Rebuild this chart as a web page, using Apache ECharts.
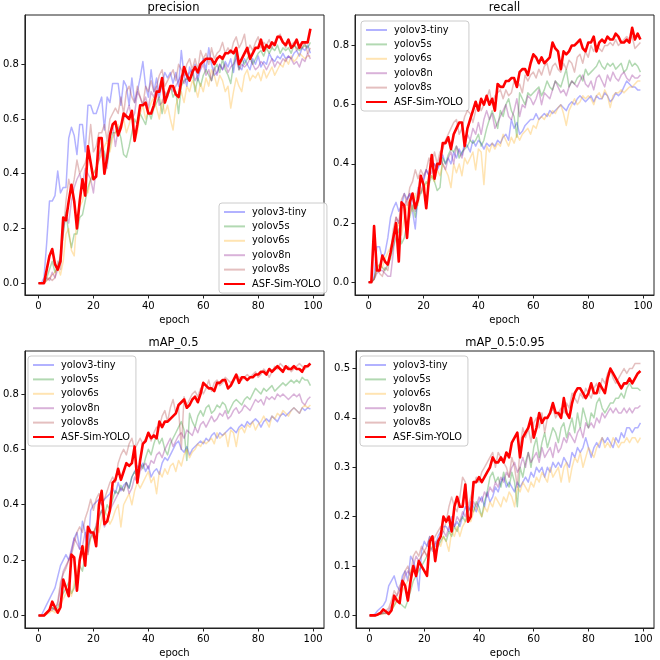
<!DOCTYPE html>
<html><head><meta charset="utf-8">
<script src="https://cdn.jsdelivr.net/npm/echarts@6/dist/echarts.min.js"></script>
<style>html,body{margin:0;padding:0;background:#fff}#c{width:660px;height:660px}</style>
</head><body><div id="c"></div>
<script>
// ---------- data ----------
const panelTitles = ['precision', 'recall', 'mAP_0.5', 'mAP_0.5:0.95'];
const modelNames = ['yolov3-tiny', 'yolov5s', 'yolov6s', 'yolov8n', 'yolov8s', 'ASF-Sim-YOLO'];
const xTicks = [0, 20, 40, 60, 80, 100];
const yTicksA = [0, 0.2, 0.4, 0.6, 0.8];
const yTicksB = [0, 0.1, 0.2, 0.3, 0.4, 0.5];

// precision
const precV3tiny = [0,0,0.02,0.15,0.30,0.30,0.32,0.41,0.33,0.35,
 0.35,0.53,0.57,0.54,0.47,0.58,0.58,0.48,0.65,0.65,
 0.62,0.62,0.65,0.68,0.56,0.68,0.66,0.73,0.73,0.73,
 0.65,0.74,0.72,0.65,0.75,0.66,0.70,0.75,0.81,0.72,
 0.68,0.78,0.70,0.75,0.68,0.73,0.77,0.75,0.77,0.73,
 0.77,0.72,0.85,0.76,0.72,0.79,0.76,0.80,0.74,0.79,
 0.82,0.78,0.86,0.80,0.76,0.77,0.80,0.78,0.81,0.79,
 0.82,0.77,0.84,0.79,0.78,0.82,0.80,0.78,0.82,0.80,
 0.83,0.79,0.81,0.80,0.84,0.82,0.81,0.83,0.82,0.84,
 0.82,0.83,0.82,0.84,0.85,0.83,0.86,0.85,0.87,0.84];
const precV5s = [0,0,0,0.02,0.05,0.08,0.04,0.06,0.10,0.18,
 0.26,0.18,0.13,0.18,0.18,0.24,0.25,0.30,0.35,0.38,
 0.40,0.42,0.47,0.50,0.48,0.44,0.50,0.55,0.55,0.57,
 0.53,0.47,0.46,0.50,0.55,0.60,0.58,0.62,0.60,0.58,
 0.63,0.60,0.64,0.66,0.68,0.62,0.68,0.70,0.72,0.68,
 0.70,0.62,0.72,0.74,0.75,0.74,0.78,0.70,0.75,0.72,
 0.76,0.78,0.76,0.74,0.78,0.80,0.77,0.82,0.78,0.76,
 0.73,0.80,0.85,0.78,0.82,0.80,0.82,0.84,0.80,0.82,
 0.84,0.85,0.83,0.86,0.84,0.86,0.85,0.87,0.84,0.86,
 0.85,0.86,0.84,0.87,0.86,0.85,0.86,0.87,0.86,0.88];
const precV6s = [0,0,0,0.01,0.02,0.03,0.04,0.06,0.03,0.08,
 0.18,0.20,0.12,0.10,0.25,0.28,0.30,0.35,0.33,0.38,
 0.40,0.42,0.45,0.47,0.50,0.52,0.48,0.53,0.55,0.58,
 0.56,0.60,0.55,0.58,0.62,0.52,0.55,0.62,0.65,0.60,
 0.63,0.66,0.68,0.64,0.60,0.67,0.62,0.65,0.60,0.56,
 0.65,0.68,0.70,0.66,0.72,0.70,0.74,0.72,0.68,0.73,
 0.70,0.75,0.72,0.78,0.76,0.72,0.76,0.74,0.70,0.72,
 0.64,0.70,0.75,0.72,0.70,0.76,0.78,0.74,0.76,0.75,
 0.77,0.74,0.78,0.75,0.77,0.79,0.76,0.78,0.80,0.79,
 0.82,0.80,0.83,0.81,0.82,0.84,0.83,0.82,0.83,0.83];
const precV8n = [0,0,0,0.02,0.01,0.04,0.02,0.05,0.10,0.20,
 0.25,0.22,0.30,0.35,0.38,0.40,0.36,0.42,0.40,0.38,
 0.33,0.42,0.45,0.50,0.46,0.42,0.55,0.58,0.50,0.56,
 0.58,0.60,0.62,0.65,0.60,0.62,0.70,0.68,0.65,0.68,
 0.64,0.70,0.68,0.72,0.65,0.66,0.70,0.68,0.72,0.70,
 0.72,0.74,0.76,0.73,0.75,0.77,0.78,0.74,0.76,0.78,
 0.80,0.76,0.78,0.74,0.79,0.76,0.80,0.78,0.80,0.77,
 0.79,0.80,0.82,0.78,0.80,0.79,0.80,0.82,0.80,0.78,
 0.79,0.81,0.80,0.78,0.80,0.82,0.79,0.81,0.80,0.82,
 0.81,0.83,0.82,0.80,0.81,0.79,0.82,0.81,0.84,0.82];
const precV8s = [0,0,0,0.01,0.02,0.01,0.02,0.08,0.05,0.18,
 0.30,0.38,0.33,0.38,0.45,0.40,0.42,0.44,0.48,0.58,
 0.48,0.50,0.55,0.55,0.58,0.52,0.60,0.62,0.64,0.62,
 0.68,0.62,0.70,0.72,0.68,0.66,0.72,0.68,0.65,0.72,
 0.70,0.74,0.70,0.72,0.76,0.78,0.72,0.74,0.76,0.78,
 0.74,0.80,0.78,0.76,0.80,0.82,0.78,0.82,0.78,0.85,
 0.82,0.84,0.80,0.86,0.82,0.84,0.85,0.88,0.84,0.86,
 0.84,0.88,0.90,0.86,0.88,0.91,0.84,0.87,0.85,0.88,
 0.90,0.86,0.88,0.87,0.89,0.86,0.88,0.90,0.91,0.88,
 0.86,0.89,0.87,0.88,0.85,0.87,0.86,0.88,0.84,0.86];
const precASF = [0,0,0,0.05,0.10,0.125,0.07,0.05,0.08,0.24,
 0.23,0.30,0.36,0.30,0.20,0.30,0.38,0.32,0.50,0.44,
 0.38,0.39,0.53,0.53,0.40,0.46,0.54,0.58,0.59,0.54,
 0.57,0.62,0.61,0.60,0.63,0.52,0.58,0.65,0.65,0.66,
 0.62,0.62,0.65,0.70,0.70,0.75,0.66,0.69,0.72,0.72,
 0.69,0.68,0.74,0.79,0.76,0.74,0.77,0.79,0.77,0.80,
 0.81,0.82,0.82,0.82,0.80,0.82,0.83,0.82,0.84,0.84,
 0.85,0.84,0.86,0.80,0.82,0.84,0.86,0.82,0.84,0.86,
 0.86,0.89,0.85,0.87,0.86,0.88,0.87,0.90,0.90,0.88,
 0.87,0.89,0.86,0.87,0.89,0.86,0.88,0.88,0.88,0.93];

// recall
const recV3tiny = [0,0,0.02,0.12,0.12,0.08,0.10,0.15,0.22,0.25,
 0.27,0.24,0.26,0.30,0.28,0.30,0.24,0.18,0.30,0.34,
 0.35,0.38,0.36,0.40,0.40,0.38,0.40,0.43,0.40,0.42,
 0.40,0.44,0.42,0.45,0.43,0.47,0.46,0.44,0.48,0.46,
 0.48,0.47,0.45,0.47,0.46,0.47,0.46,0.48,0.47,0.49,
 0.50,0.48,0.55,0.52,0.54,0.50,0.51,0.53,0.54,0.55,
 0.55,0.57,0.55,0.56,0.57,0.56,0.58,0.57,0.58,0.59,
 0.60,0.59,0.58,0.60,0.61,0.60,0.62,0.63,0.62,0.61,
 0.62,0.63,0.61,0.63,0.62,0.62,0.64,0.63,0.61,0.62,
 0.64,0.63,0.64,0.66,0.68,0.67,0.66,0.66,0.65,0.65];
const recV5s = [0,0,0.01,0.05,0.06,0.05,0.04,0.06,0.08,0.12,
 0.15,0.18,0.13,0.15,0.20,0.22,0.26,0.22,0.28,0.30,
 0.32,0.34,0.33,0.36,0.34,0.31,0.32,0.42,0.40,0.43,
 0.45,0.44,0.46,0.42,0.44,0.45,0.46,0.48,0.47,0.48,
 0.50,0.46,0.48,0.52,0.55,0.58,0.55,0.52,0.58,0.56,
 0.60,0.62,0.58,0.56,0.49,0.64,0.62,0.60,0.64,0.63,
 0.64,0.65,0.66,0.63,0.65,0.68,0.66,0.65,0.68,0.67,
 0.66,0.69,0.72,0.66,0.68,0.67,0.69,0.70,0.68,0.72,
 0.70,0.71,0.72,0.73,0.75,0.73,0.72,0.74,0.73,0.74,
 0.72,0.73,0.74,0.71,0.72,0.75,0.73,0.74,0.73,0.71];
const recV6s = [0,0,0.01,0.04,0.06,0.05,0.08,0.10,0.12,0.15,
 0.18,0.20,0.16,0.22,0.25,0.28,0.24,0.30,0.26,0.32,
 0.30,0.33,0.35,0.36,0.34,0.38,0.36,0.40,0.38,0.36,
 0.32,0.40,0.37,0.40,0.36,0.42,0.40,0.42,0.44,0.38,
 0.45,0.44,0.33,0.46,0.44,0.47,0.45,0.47,0.46,0.50,
 0.48,0.46,0.49,0.47,0.50,0.48,0.50,0.51,0.52,0.50,
 0.53,0.52,0.55,0.56,0.55,0.57,0.56,0.58,0.57,0.59,
 0.60,0.57,0.53,0.58,0.60,0.62,0.60,0.61,0.63,0.62,
 0.63,0.62,0.60,0.63,0.64,0.62,0.65,0.63,0.59,0.63,
 0.64,0.64,0.65,0.64,0.65,0.66,0.66,0.67,0.68,0.68];
const recV8n = [0,0,0.01,0.03,0.04,0.04,0.03,0.02,0.02,0.10,
 0.22,0.20,0.25,0.26,0.28,0.30,0.28,0.24,0.32,0.30,
 0.34,0.38,0.36,0.37,0.40,0.38,0.42,0.40,0.38,0.42,
 0.44,0.40,0.46,0.44,0.42,0.46,0.50,0.48,0.52,0.50,
 0.54,0.50,0.55,0.58,0.55,0.57,0.52,0.54,0.56,0.58,
 0.60,0.56,0.55,0.58,0.62,0.56,0.60,0.59,0.63,0.62,
 0.60,0.62,0.65,0.60,0.64,0.63,0.62,0.65,0.68,0.66,
 0.64,0.65,0.63,0.66,0.68,0.67,0.66,0.68,0.70,0.67,
 0.66,0.68,0.65,0.69,0.70,0.68,0.66,0.70,0.68,0.71,
 0.69,0.68,0.70,0.71,0.69,0.68,0.70,0.69,0.69,0.70];
const recV8s = [0,0,0.01,0.05,0.03,0.02,0.05,0.04,0.10,0.18,
 0.22,0.20,0.28,0.30,0.26,0.32,0.34,0.38,0.35,0.38,
 0.36,0.38,0.42,0.40,0.44,0.40,0.44,0.45,0.48,0.50,
 0.52,0.54,0.55,0.50,0.52,0.56,0.58,0.57,0.54,0.58,
 0.60,0.58,0.60,0.62,0.65,0.60,0.63,0.64,0.65,0.62,
 0.65,0.63,0.64,0.68,0.66,0.67,0.64,0.70,0.68,0.70,
 0.71,0.69,0.72,0.70,0.73,0.74,0.70,0.73,0.74,0.72,
 0.71,0.74,0.72,0.75,0.74,0.71,0.76,0.77,0.74,0.78,
 0.76,0.80,0.78,0.80,0.79,0.78,0.80,0.80,0.81,0.80,
 0.82,0.80,0.81,0.82,0.83,0.82,0.83,0.79,0.80,0.81];
const recASF = [0,0,0.19,0.04,0.04,0.09,0.07,0.06,0.10,0.15,
 0.20,0.07,0.27,0.26,0.15,0.27,0.30,0.25,0.28,0.36,
 0.33,0.25,0.35,0.43,0.35,0.40,0.40,0.47,0.47,0.49,
 0.45,0.50,0.52,0.54,0.54,0.46,0.52,0.55,0.58,0.61,
 0.58,0.62,0.60,0.63,0.60,0.62,0.58,0.67,0.66,0.66,
 0.68,0.68,0.69,0.69,0.66,0.71,0.72,0.72,0.70,0.74,
 0.77,0.76,0.74,0.76,0.74,0.75,0.76,0.81,0.79,0.78,
 0.72,0.78,0.77,0.78,0.80,0.80,0.81,0.82,0.79,0.78,
 0.81,0.81,0.83,0.78,0.81,0.82,0.81,0.83,0.82,0.82,
 0.84,0.83,0.81,0.81,0.82,0.81,0.86,0.82,0.84,0.82];

// mAP_0.5
const map50V3tiny = [0,0,0.02,0.04,0.06,0.08,0.10,0.14,0.18,0.20,
 0.22,0.20,0.23,0.28,0.30,0.24,0.34,0.30,0.23,0.38,
 0.40,0.41,0.42,0.40,0.42,0.43,0.44,0.46,0.44,0.48,
 0.45,0.47,0.48,0.46,0.50,0.52,0.54,0.53,0.55,0.52,
 0.54,0.50,0.52,0.53,0.51,0.55,0.57,0.56,0.58,0.60,
 0.62,0.63,0.60,0.59,0.61,0.58,0.60,0.61,0.62,0.63,
 0.62,0.64,0.63,0.65,0.66,0.64,0.66,0.65,0.66,0.67,
 0.68,0.67,0.66,0.68,0.69,0.68,0.70,0.69,0.70,0.71,
 0.70,0.68,0.70,0.71,0.70,0.72,0.71,0.70,0.72,0.73,
 0.72,0.73,0.74,0.75,0.74,0.73,0.75,0.74,0.75,0.745];
const map50V5s = [0,0,0,0.01,0.02,0.03,0.02,0.03,0.05,0.08,
 0.10,0.12,0.08,0.10,0.15,0.18,0.16,0.22,0.25,0.28,
 0.30,0.32,0.35,0.38,0.36,0.40,0.38,0.42,0.45,0.44,
 0.47,0.45,0.48,0.46,0.50,0.52,0.50,0.55,0.53,0.57,
 0.60,0.58,0.62,0.65,0.62,0.64,0.60,0.58,0.62,0.64,
 0.66,0.68,0.70,0.67,0.56,0.73,0.70,0.68,0.72,0.74,
 0.72,0.75,0.76,0.73,0.74,0.76,0.75,0.77,0.76,0.73,
 0.75,0.77,0.78,0.77,0.76,0.78,0.79,0.78,0.80,0.82,
 0.81,0.80,0.82,0.81,0.82,0.83,0.81,0.82,0.83,0.84,
 0.83,0.84,0.85,0.84,0.85,0.84,0.86,0.85,0.85,0.83];
const map50V6s = [0,0,0,0.005,0.01,0.02,0.01,0.02,0.04,0.06,
 0.08,0.10,0.07,0.12,0.16,0.20,0.22,0.25,0.22,0.28,
 0.30,0.32,0.30,0.35,0.38,0.36,0.33,0.35,0.38,0.40,
 0.32,0.40,0.42,0.44,0.40,0.45,0.48,0.46,0.48,0.50,
 0.52,0.48,0.50,0.44,0.52,0.50,0.53,0.51,0.54,0.55,
 0.52,0.56,0.54,0.58,0.60,0.57,0.59,0.60,0.62,0.61,
 0.63,0.62,0.63,0.64,0.62,0.66,0.64,0.65,0.66,0.61,
 0.67,0.66,0.61,0.67,0.68,0.66,0.69,0.68,0.70,0.67,
 0.69,0.70,0.72,0.70,0.68,0.72,0.71,0.73,0.72,0.74,
 0.73,0.72,0.74,0.75,0.74,0.73,0.75,0.76,0.75,0.76];
const map50V8n = [0,0,0,0.01,0.02,0.02,0.03,0.04,0.10,0.16,
 0.18,0.20,0.24,0.28,0.26,0.24,0.25,0.30,0.22,0.30,
 0.28,0.33,0.36,0.38,0.32,0.34,0.38,0.40,0.42,0.44,
 0.46,0.45,0.48,0.44,0.46,0.50,0.48,0.52,0.54,0.55,
 0.53,0.56,0.55,0.58,0.59,0.57,0.60,0.62,0.64,0.61,
 0.63,0.65,0.66,0.64,0.67,0.66,0.65,0.68,0.66,0.69,
 0.70,0.68,0.70,0.72,0.70,0.71,0.73,0.72,0.74,0.71,
 0.72,0.74,0.75,0.73,0.74,0.76,0.75,0.74,0.76,0.78,
 0.77,0.78,0.76,0.79,0.78,0.79,0.78,0.80,0.79,0.80,
 0.79,0.78,0.79,0.80,0.79,0.80,0.77,0.76,0.78,0.79];
const map50V8s = [0,0,0,0.01,0.02,0.03,0.02,0.05,0.12,0.15,
 0.17,0.20,0.22,0.26,0.30,0.32,0.30,0.35,0.38,0.42,
 0.38,0.42,0.44,0.40,0.42,0.45,0.48,0.50,0.48,0.55,
 0.58,0.60,0.58,0.62,0.64,0.60,0.62,0.64,0.62,0.64,
 0.66,0.63,0.66,0.68,0.68,0.72,0.74,0.70,0.75,0.78,
 0.73,0.75,0.60,0.79,0.76,0.78,0.80,0.81,0.79,0.82,
 0.80,0.82,0.85,0.81,0.84,0.85,0.83,0.84,0.86,0.85,
 0.84,0.85,0.87,0.86,0.85,0.86,0.87,0.86,0.87,0.88,
 0.86,0.87,0.89,0.88,0.86,0.88,0.90,0.89,0.91,0.90,
 0.89,0.90,0.88,0.89,0.90,0.91,0.90,0.89,0.90,0.91];
const map50ASF = [0,0,0,0.01,0.02,0.05,0.03,0.01,0.03,0.13,
 0.10,0.07,0.22,0.21,0.09,0.20,0.25,0.18,0.32,0.30,
 0.30,0.25,0.40,0.45,0.33,0.34,0.38,0.48,0.49,0.53,
 0.49,0.52,0.55,0.54,0.55,0.61,0.48,0.56,0.62,0.63,
 0.66,0.64,0.65,0.64,0.70,0.68,0.70,0.70,0.71,0.72,
 0.73,0.76,0.77,0.78,0.75,0.76,0.78,0.79,0.77,0.80,
 0.84,0.83,0.82,0.82,0.81,0.84,0.84,0.85,0.85,0.82,
 0.83,0.85,0.87,0.84,0.86,0.86,0.85,0.86,0.86,0.87,
 0.87,0.88,0.88,0.87,0.89,0.88,0.89,0.90,0.89,0.88,
 0.90,0.89,0.89,0.90,0.89,0.89,0.88,0.90,0.90,0.91];

// mAP_0.5:0.95
const map5095V3tiny = [0,0,0.003,0.01,0.015,0.02,0.03,0.06,0.07,0.08,
 0.06,0.05,0.08,0.09,0.07,0.12,0.11,0.09,0.05,0.13,
 0.15,0.14,0.16,0.15,0.14,0.16,0.17,0.18,0.18,0.17,
 0.20,0.18,0.19,0.18,0.20,0.22,0.21,0.23,0.22,0.21,
 0.23,0.24,0.22,0.25,0.23,0.24,0.26,0.25,0.27,0.28,
 0.26,0.27,0.26,0.25,0.27,0.26,0.27,0.28,0.27,0.29,
 0.28,0.30,0.29,0.30,0.28,0.30,0.29,0.31,0.30,0.31,
 0.30,0.32,0.31,0.30,0.33,0.32,0.34,0.33,0.34,0.36,
 0.34,0.32,0.34,0.35,0.34,0.36,0.35,0.36,0.35,0.34,
 0.36,0.35,0.37,0.36,0.38,0.38,0.37,0.38,0.38,0.39];
const map5095V5s = [0,0,0,0.001,0.003,0.005,0.004,0.006,0.01,0.02,
 0.03,0.025,0.02,0.015,0.03,0.05,0.07,0.08,0.09,0.10,
 0.11,0.12,0.13,0.14,0.13,0.14,0.15,0.16,0.15,0.17,
 0.16,0.18,0.17,0.19,0.20,0.19,0.21,0.22,0.21,0.23,
 0.22,0.20,0.23,0.25,0.28,0.29,0.27,0.28,0.26,0.29,
 0.27,0.26,0.29,0.27,0.22,0.30,0.28,0.31,0.33,0.30,
 0.34,0.36,0.32,0.35,0.37,0.34,0.36,0.38,0.37,0.35,
 0.38,0.39,0.36,0.38,0.40,0.37,0.41,0.38,0.42,0.40,
 0.38,0.41,0.40,0.43,0.44,0.42,0.41,0.42,0.43,0.43,
 0.44,0.44,0.45,0.44,0.46,0.47,0.46,0.46,0.46,0.455];
const map5095V6s = [0,0,0,0.001,0.002,0.003,0.004,0.006,0.01,0.02,
 0.03,0.04,0.05,0.06,0.07,0.09,0.10,0.08,0.11,0.12,
 0.13,0.12,0.14,0.15,0.13,0.15,0.14,0.16,0.15,0.13,
 0.17,0.16,0.18,0.16,0.18,0.19,0.20,0.19,0.21,0.22,
 0.21,0.20,0.22,0.21,0.23,0.22,0.24,0.23,0.22,0.24,
 0.23,0.25,0.24,0.22,0.26,0.25,0.27,0.26,0.25,0.27,
 0.26,0.28,0.27,0.29,0.28,0.27,0.30,0.28,0.29,0.30,
 0.27,0.30,0.31,0.27,0.30,0.32,0.31,0.33,0.30,0.32,
 0.34,0.33,0.32,0.34,0.35,0.36,0.34,0.35,0.34,0.36,
 0.35,0.34,0.35,0.35,0.36,0.35,0.36,0.36,0.35,0.36];
const map5095V8n = [0,0,0,0.002,0.003,0.004,0.005,0.01,0.02,0.03,
 0.04,0.05,0.06,0.08,0.09,0.08,0.10,0.12,0.11,0.12,
 0.13,0.12,0.14,0.13,0.15,0.14,0.16,0.17,0.16,0.18,
 0.19,0.18,0.20,0.19,0.21,0.20,0.22,0.21,0.23,0.22,
 0.24,0.23,0.25,0.24,0.26,0.25,0.27,0.26,0.28,0.27,
 0.29,0.28,0.30,0.31,0.29,0.30,0.32,0.30,0.33,0.31,
 0.32,0.33,0.31,0.34,0.32,0.33,0.34,0.32,0.35,0.33,
 0.34,0.36,0.35,0.37,0.36,0.35,0.37,0.38,0.36,0.39,
 0.38,0.39,0.38,0.40,0.39,0.41,0.40,0.41,0.42,0.41,
 0.42,0.41,0.41,0.42,0.41,0.42,0.41,0.42,0.42,0.425];
const map5095V8s = [0,0,0,0.002,0.004,0.006,0.01,0.015,0.03,0.05,
 0.04,0.06,0.07,0.09,0.10,0.08,0.12,0.13,0.12,0.14,
 0.13,0.14,0.16,0.15,0.16,0.17,0.18,0.17,0.19,0.22,
 0.24,0.22,0.21,0.24,0.28,0.27,0.22,0.24,0.26,0.28,
 0.27,0.29,0.30,0.31,0.32,0.33,0.30,0.33,0.32,0.31,
 0.30,0.28,0.32,0.30,0.26,0.34,0.38,0.36,0.38,0.35,
 0.39,0.40,0.38,0.41,0.37,0.40,0.41,0.42,0.40,0.41,
 0.42,0.41,0.43,0.42,0.45,0.44,0.43,0.45,0.44,0.46,
 0.45,0.44,0.46,0.47,0.45,0.48,0.47,0.49,0.50,0.48,
 0.47,0.48,0.49,0.50,0.49,0.50,0.50,0.51,0.51,0.51];
const map5095ASF = [0,0,0,0.002,0.005,0.012,0.008,0.003,0.01,0.04,
 0.03,0.025,0.07,0.06,0.03,0.07,0.10,0.08,0.11,0.10,
 0.09,0.08,0.15,0.16,0.11,0.15,0.16,0.20,0.19,0.20,
 0.17,0.22,0.24,0.22,0.22,0.265,0.19,0.20,0.27,0.27,
 0.28,0.27,0.28,0.29,0.30,0.32,0.31,0.31,0.32,0.31,
 0.33,0.32,0.35,0.36,0.37,0.32,0.36,0.37,0.38,0.40,
 0.36,0.38,0.41,0.39,0.40,0.40,0.41,0.43,0.41,0.41,
 0.40,0.44,0.41,0.40,0.43,0.45,0.46,0.46,0.45,0.44,
 0.45,0.47,0.45,0.45,0.47,0.46,0.45,0.48,0.50,0.49,
 0.48,0.47,0.46,0.47,0.47,0.48,0.47,0.48,0.49,0.495];

// ---------- layout / style ----------
const panelData = [
  [precV3tiny, precV5s, precV6s, precV8n, precV8s, precASF],
  [recV3tiny, recV5s, recV6s, recV8n, recV8s, recASF],
  [map50V3tiny, map50V5s, map50V6s, map50V8n, map50V8s, map50ASF],
  [map5095V3tiny, map5095V5s, map5095V6s, map5095V8n, map5095V8s, map5095ASF]
];
const yTickSets = [yTicksA, yTicksA, yTicksA, yTicksB];
const yLimits = [[-0.043, 0.980], [-0.043, 0.903], [-0.045, 0.955], [-0.0255, 0.5355]];
const grids = [
  {left: 23, top: 15, width: 301, height: 280},
  {left: 355, top: 15, width: 299, height: 280},
  {left: 23, top: 351, width: 301, height: 277},
  {left: 356, top: 351, width: 298, height: 277}
];
const titleTops = [2, 2, 337, 337];
const legendPos = [{left: 219, top: 203}, {left: 361, top: 21}, {left: 28, top: 356}, {left: 360, top: 356}];
const colors = ['rgba(0,0,255,0.3)', 'rgba(0,128,0,0.3)', 'rgba(255,165,0,0.3)',
                'rgba(128,0,128,0.3)', 'rgba(165,42,42,0.3)', '#ff0000'];
const widths = [1.5, 1.5, 1.5, 1.5, 1.5, 2.6];
const FONT = 'DejaVu Sans';

const option = {
  backgroundColor: '#fff',
  animation: false,
  title: [], grid: [], xAxis: [], yAxis: [], legend: [], series: []
};

for (let p = 0; p < 4; p++) {
  const g = grids[p];
  option.grid.push({left: g.left, top: g.top, width: g.width, height: g.height,
    show: true, borderColor: '#222', borderWidth: 1, backgroundColor: 'transparent'});
  option.title.push({text: panelTitles[p], left: g.left + g.width / 2, top: titleTops[p],
    textAlign: 'center', padding: 0,
    textStyle: {fontSize: 11.5, fontWeight: 'normal', color: '#000', fontFamily: FONT}});
  option.xAxis.push({type: 'value', gridIndex: p, min: -4.95, max: 103.95,
    name: 'epoch', nameLocation: 'middle', nameGap: 20,
    nameTextStyle: {fontSize: 10, color: '#000', fontFamily: FONT},
    axisLine: {show: true, onZero: false, lineStyle: {color: '#222', width: 1}},
    axisTick: {show: true, inside: false, length: 3.5, customValues: xTicks, lineStyle: {color: '#222'}},
    axisLabel: {show: true, customValues: xTicks, margin: 6, fontSize: 10, color: '#000', fontFamily: FONT,
      showMinLabel: true, showMaxLabel: true},
    splitLine: {show: false}});
  option.yAxis.push({type: 'value', gridIndex: p, min: yLimits[p][0], max: yLimits[p][1],
    axisLine: {show: true, onZero: false, lineStyle: {color: '#222', width: 1}},
    axisTick: {show: true, inside: false, length: 3.5, customValues: yTickSets[p], lineStyle: {color: '#222'}},
    axisLabel: {show: true, customValues: yTickSets[p], margin: 6, fontSize: 10, color: '#000', fontFamily: FONT,
      formatter: v => Number(v).toFixed(1)},
    splitLine: {show: false}});
  option.legend.push({
    data: modelNames, orient: 'vertical', left: legendPos[p].left, top: legendPos[p].top,
    itemWidth: 21, itemHeight: 8, itemGap: 2.4, padding: [3, 6, 3, 4],
    selectedMode: false,
    itemStyle: {opacity: 0},
    backgroundColor: 'rgba(255,255,255,0.8)', borderColor: '#cccccc', borderWidth: 1, borderRadius: 3,
    textStyle: {fontSize: 9.8, color: '#000', fontFamily: FONT, lineHeight: 12, padding: [0, 0, 0, 2]}
  });
  for (let m = 0; m < modelNames.length; m++) {
    option.series.push({
      type: 'line', name: modelNames[m], xAxisIndex: p, yAxisIndex: p,
      data: panelData[p][m].map((v, i) => [i, v]),
      symbol: 'none', showSymbol: false, clip: true,
      lineStyle: {color: colors[m], width: widths[m], join: 'round'},
      itemStyle: {color: colors[m]},
      z: 2 + m
    });
  }
}

const chart = echarts.init(document.getElementById('c'), null, {renderer: 'canvas'});
chart.setOption(option);
</script>
</body></html>
